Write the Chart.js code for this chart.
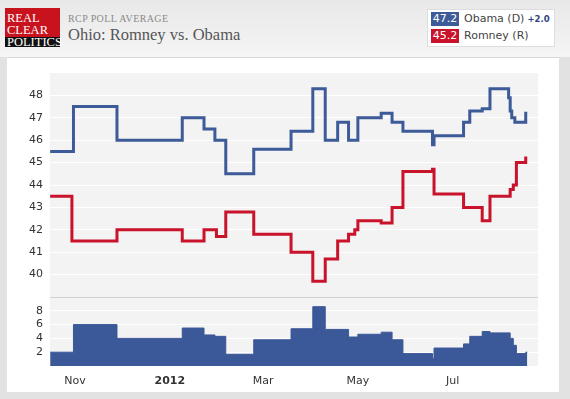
<!DOCTYPE html>
<html>
<head>
<meta charset="utf-8">
<script src="https://cdn.jsdelivr.net/npm/chart.js@4/dist/chart.umd.min.js"></script>
<style>
  html, body { margin:0; padding:0; }
  body { width:570px; height:399px; position:relative; overflow:hidden; background:#e2e2e2; font-family:"DejaVu Sans", Verdana, sans-serif; }
  #header { position:absolute; left:0; top:0; width:570px; height:57px; background:linear-gradient(#e8e8e8, #f5f5f5); }
  #panel { position:absolute; left:7px; top:57px; width:552px; height:335px; background:#fff; border-top:1px solid #d8d8d8; box-sizing:border-box; }
  #logo { position:absolute; left:5px; top:8px; width:55px; height:39px; font-family:"Liberation Serif", "Times New Roman", serif; font-size:12.5px; color:#fff; line-height:1; }
  #logo .red { position:absolute; left:0; top:0; width:55px; height:29px; background:#c8131f; }
  #logo .blk { position:absolute; left:0; top:29px; width:55px; height:10px; background:#111; }
  #logo span { position:absolute; left:2px; white-space:nowrap; }
  #sub { position:absolute; left:68px; top:13px; font-family:"Liberation Serif", serif; font-size:10px; letter-spacing:0.4px; color:#8a8a8a; white-space:nowrap; }
  #title { position:absolute; left:68px; top:25px; font-family:"Liberation Serif", serif; font-size:16.5px; color:#555; white-space:nowrap; }
  #legend { position:absolute; left:427px; top:9px; width:128px; height:38px; background:#fff; border:1px solid #ddd; box-sizing:border-box; font-size:11px; color:#444; }
  .row { position:absolute; left:3px; height:14px; white-space:nowrap; }
  .badge { display:inline-block; width:28px; height:14px; line-height:14px; color:#fff; text-align:center; vertical-align:top; }
  .lab { display:inline-block; margin-left:5px; line-height:14px; vertical-align:top; }
  .chg { font-size:8.5px; font-weight:bold; color:#2d4680; margin-left:3px; }
  canvas { position:absolute; left:0; }
</style>
</head>
<body>
<div id="header"></div>
<div id="panel"></div>
<div id="logo"><div class="red"></div><div class="blk"></div><span style="top:4px">REAL</span><span style="top:16px">CLEAR</span><span style="top:28px">POLITICS</span></div>
<div id="sub">RCP POLL AVERAGE</div>
<div id="title">Ohio: Romney vs. Obama</div>
<div id="legend">
  <div class="row" style="top:2px"><span class="badge" style="background:#3d5b98">47.2</span><span class="lab">Obama (D)<span class="chg">+2.0</span></span></div>
  <div class="row" style="top:19px"><span class="badge" style="background:#c8132a">45.2</span><span class="lab">Romney (R)</span></div>
</div>
<canvas id="top" width="538" height="237" style="top:60px"></canvas>
<canvas id="bot" width="538" height="102" style="top:297px"></canvas>
<script>
// x values are days counted from 1 Nov 2011
const obamaDays = [-16, -1, 27, 69, 83, 90, 97, 115, 139, 153, 161, 169, 176, 182, 197, 204, 211, 230, 231, 250, 254, 262, 267, 279, 280, 281, 283, 290, 291];
const obamaVals = [45.5, 47.5, 46.0, 47.0, 46.5, 46.0, 44.5, 45.6, 46.4, 48.3, 46.0, 46.8, 46.0, 47.0, 47.2, 46.8, 46.4, 45.8, 46.2, 46.8, 47.3, 47.4, 48.3, 47.9, 47.3, 47.0, 46.8, 47.2, 47.2];

const romneyDays = [-16, -2, 27, 69, 83, 91, 97, 115, 139, 153, 161, 169, 176, 180, 182, 197, 204, 211, 230, 231, 250, 262, 267, 280, 282, 284, 290, 291];
const romneyVals = [43.5, 41.5, 42.0, 41.5, 42.0, 41.7, 42.8, 41.8, 41.0, 39.7, 40.7, 41.5, 41.8, 42.0, 42.4, 42.3, 43.0, 44.6, 44.7, 43.6, 43.0, 42.4, 43.5, 43.8, 44.0, 45.0, 45.2, 45.2];

const spreadDays = [-16, -1, 27, 69, 83, 90, 97, 115, 139, 153, 161, 176, 182, 197, 204, 211, 230, 231, 250, 254, 262, 267, 280, 282, 284, 290, 291];
const spreadVals = [2.0, 6.0, 4.0, 5.5, 4.5, 4.3, 1.7, 3.8, 5.4, 8.6, 5.3, 4.2, 4.6, 4.9, 3.8, 1.8, 1.1, 2.6, 3.2, 4.3, 5.0, 4.8, 4.0, 3.0, 1.8, 2.0, 2.0];

const yTicksTop = [40, 41, 42, 43, 44, 45, 46, 47, 48];
const yTicksBottom = [2, 4, 6, 8];
const xTickDays = [0, 61, 121, 182, 243];
const xTickLabels = ['Nov', '2012', 'Mar', 'May', 'Jul'];
const xTickBold = [false, true, false, false, false];

const X_MIN = -16.1, X_MAX = 297.9;
const BLUE = '#3d5b98', RED = '#c8132a', FILL = '#3b5898';
const FONT = 'DejaVu Sans';

const pts = (xs, ys) => xs.map((x, i) => ({x: x, y: ys[i]}));

const bgPlugin = {
  id: 'plotbg',
  beforeDraw(chart) {
    const a = chart.chartArea, c = chart.ctx;
    c.save();
    c.fillStyle = '#f3f3f3';
    c.fillRect(a.left, a.top, a.right - a.left, a.bottom - a.top);
    c.restore();
  }
};
const sepPlugin = {
  id: 'sep',
  afterDraw(chart) {
    const a = chart.chartArea, c = chart.ctx;
    c.save();
    c.strokeStyle = '#cfcfcf';
    c.lineWidth = 1;
    c.beginPath();
    c.moveTo(a.left, a.top + 0.5);
    c.lineTo(a.right, a.top + 0.5);
    c.stroke();
    c.restore();
  }
};

const yCommon = (ticksArr) => ({
  afterBuildTicks: (ax) => { ax.ticks = ticksArr.map(v => ({value: v})); },
  afterFit: (ax) => { ax.width = 50; ax.paddingTop = 0; ax.paddingBottom = 0; },
  ticks: { font: {family: FONT, size: 11}, color: '#333', padding: 7 },
  grid: { color: '#ffffff', lineWidth: 1, drawTicks: false },
  border: { display: false }
});

new Chart(document.getElementById('top'), {
  type: 'line',
  data: {
    datasets: [
      { data: pts(obamaDays, obamaVals), borderColor: BLUE, borderWidth: 3, stepped: true, pointRadius: 0, fill: false },
      { data: pts(romneyDays, romneyVals), borderColor: RED, borderWidth: 3, stepped: true, pointRadius: 0, fill: false }
    ]
  },
  options: {
    responsive: false, animation: false, events: [], devicePixelRatio: 1,
    layout: { padding: { top: 13, left: 0, right: 0, bottom: 0 } },
    plugins: { legend: { display: false }, tooltip: { enabled: false } },
    scales: {
      x: { type: 'linear', min: X_MIN, max: X_MAX, display: false },
      y: Object.assign({ min: 39, max: 49 }, yCommon(yTicksTop))
    }
  },
  plugins: [bgPlugin]
});

new Chart(document.getElementById('bot'), {
  type: 'line',
  data: {
    datasets: [
      { data: pts(spreadDays, spreadVals), borderColor: FILL, backgroundColor: FILL, borderWidth: 1, stepped: true, pointRadius: 0, fill: 'origin' }
    ]
  },
  options: {
    responsive: false, animation: false, events: [], devicePixelRatio: 1,
    layout: { padding: 0 },
    plugins: { legend: { display: false }, tooltip: { enabled: false } },
    scales: {
      x: {
        type: 'linear', min: X_MIN, max: X_MAX,
        afterBuildTicks: (ax) => { ax.ticks = xTickDays.map(v => ({value: v})); },
        afterFit: (ax) => { ax.height = 33; ax.paddingLeft = 0; ax.paddingRight = 0; },
        ticks: {
          autoSkip: false, maxRotation: 0, padding: 9, color: '#333',
          font: (ctx) => ({ family: FONT, size: 11, weight: xTickBold[ctx.index] ? 'bold' : 'normal' }),
          callback: (v) => { const i = xTickDays.indexOf(v); return i >= 0 ? xTickLabels[i] : ''; }
        },
        grid: { display: false, drawTicks: false },
        border: { display: false }
      },
      y: Object.assign({ min: 0, max: 10 }, yCommon(yTicksBottom))
    }
  },
  plugins: [bgPlugin, sepPlugin]
});
</script>
</body>
</html>
